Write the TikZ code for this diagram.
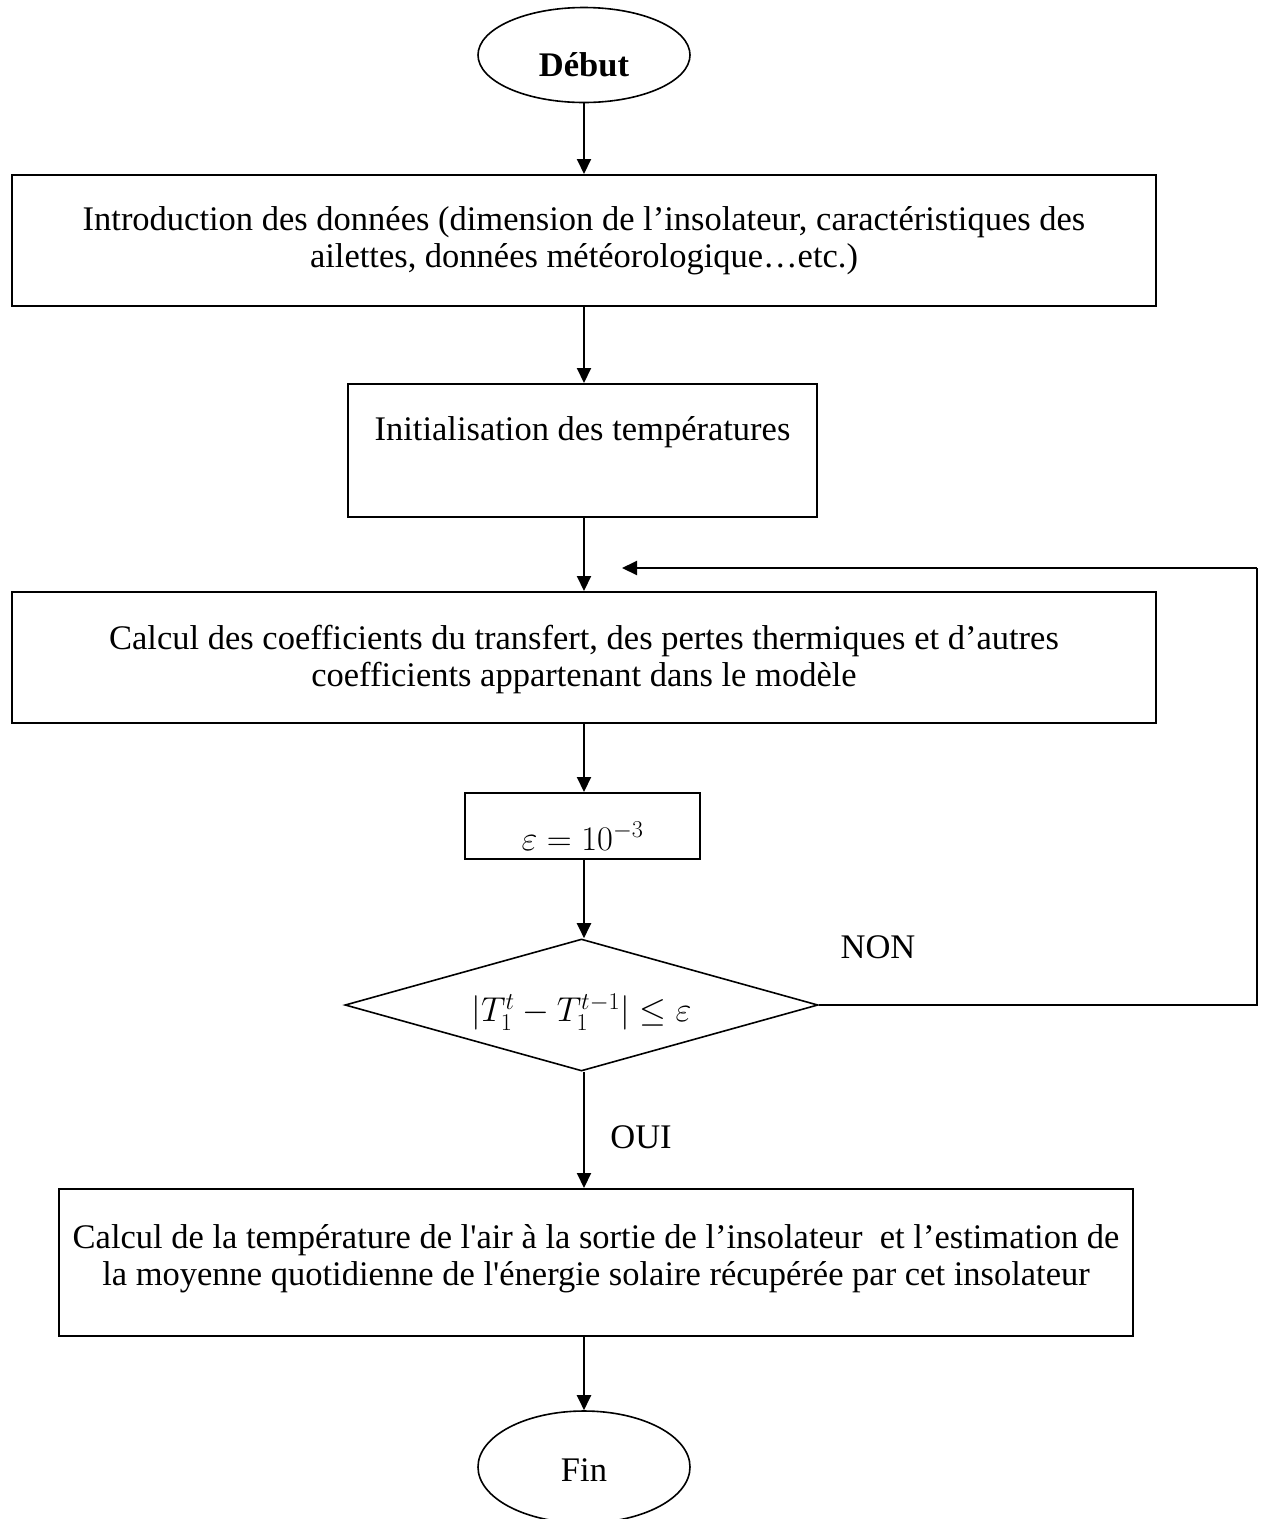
\RequirePackage{fix-cm}
\documentclass[tikz,border=0pt]{standalone}
\usepackage{fontspec}
\setmainfont{Liberation Serif}
\usetikzlibrary{shapes.geometric,arrows.meta}
\begin{document}
\begin{tikzpicture}[x=1pt,y=-1pt,
  box/.style={draw, line width=2pt, rectangle, inner sep=0pt},
  txt/.style={align=center, font=\fontsize{34.5}{37}\selectfont, inner sep=0pt},
  term/.style={draw, ellipse, line width=1.6pt, inner sep=0pt, minimum width=212pt},
  arr/.style={line width=2pt, -{Triangle[width=14pt,length=15pt]}},
  ln/.style={line width=2pt}]
\useasboundingbox (0,0) rectangle (1261,1519);
% terminals
\node[term, minimum height=95pt] (debut) at (584,55) {};
\node[txt, font=\fontsize{34.5}{37}\selectfont\bfseries] (debutt) at (584,65) {Début};
% box 1
\node[box, minimum width=1144pt, minimum height=131pt] (b1) at (584,240.5) {};
\node[txt] (b1t) at (584,241) {Introduction des données (dimension de l’insolateur, caractéristiques des\\ ailettes, données météorologique…etc.)};
% box 2
\node[box, minimum width=469pt, minimum height=133pt] (b2) at (582.5,450.5) {};
\node[txt] (b2t) at (582.5,432) {Initialisation des températures};
% box 3
\node[box, minimum width=1144pt, minimum height=131pt] (b3) at (584,657.5) {};
\node[txt] (b3t) at (584,660) {Calcul des coefficients du transfert, des pertes thermiques et d’autres\\ coefficients appartenant dans le modèle};
% box 4
\node[box, minimum width=235pt, minimum height=66pt] (b4) at (582.5,826) {};
\node[txt] (b4t) at (582.5,836) {$\varepsilon = 10^{-3}$};
% decision
\node[draw, diamond, line width=1.6pt, inner sep=0pt, minimum width=473pt, minimum height=132pt] (dia) at (581.5,1005) {};
\node[txt] (diat) at (581.5,1012) {$|T_1^{t} - T_1^{t-1}| \leq \varepsilon$};
% box 5
\node[box, minimum width=1074pt, minimum height=147pt] (b5) at (596,1262.5) {};
\node[txt] (b5t) at (596,1259) {Calcul de la température de l\textquotesingle air à la sortie de l’insolateur~ et l’estimation de\\ la moyenne quotidienne de l\textquotesingle énergie solaire récupérée par cet insolateur};
% end
\node[term, minimum height=112pt] (fin) at (584,1467) {};
\node[txt] (fint) at (584,1470) {Fin};
% labels
\node[txt] (non) at (878,947) {NON};
\node[txt] (oui) at (641,1137) {OUI};
% connectors
\draw[arr] (debut.south) -- (debut.south |- b1.north);
\draw[arr] (debut.south |- b1.south) -- (debut.south |- b2.north);
\draw[arr] (debut.south |- b2.south) -- (debut.south |- b3.north);
\draw[arr] (debut.south |- b3.south) -- (debut.south |- b4.north);
\draw[arr] (debut.south |- b4.south) -- (debut.south |- dia.north);
\draw[arr] (debut.south |- dia.south) -- (debut.south |- b5.north);
\draw[arr] (debut.south |- b5.south) -- (fin.north);
% loop back
\coordinate (lr) at (1257,1005);
\coordinate (ur) at (1257,568);
\coordinate (ret) at (622,568);
\draw[ln] (dia.east) -- (lr) -- (ur);
\draw[arr] (ur) -- (ret);
\end{tikzpicture}
\end{document}
